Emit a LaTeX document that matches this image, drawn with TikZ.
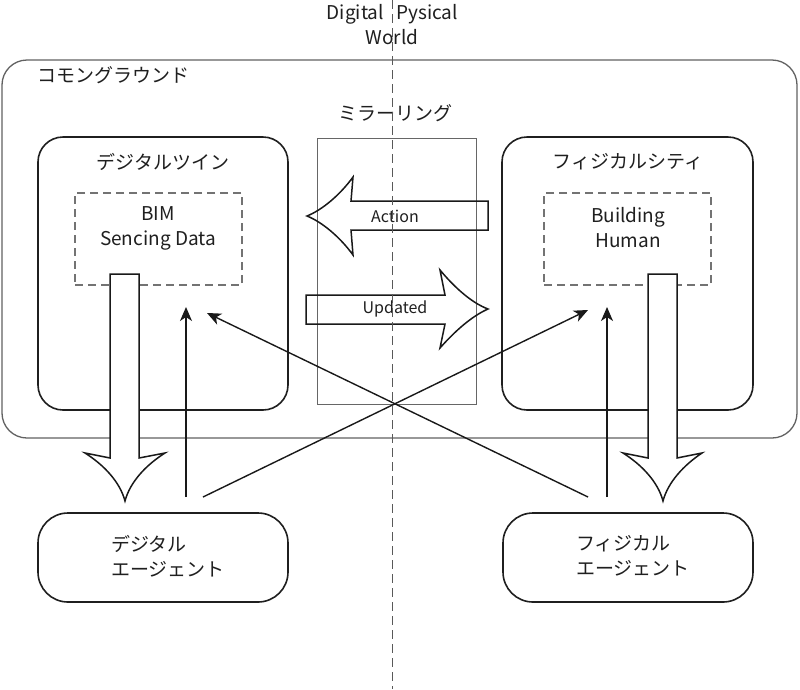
\documentclass[tikz,border=0pt]{standalone}
\usepackage{fontspec}
\setmainfont{Noto Sans CJK JP}
\usetikzlibrary{arrows.meta}
\begin{document}
\begin{tikzpicture}[x=1pt,y=-1pt,
  txt/.style={font=\fontsize{19}{25}\selectfont, text=black!88, inner sep=0pt},
  smalltxt/.style={font=\fontsize{16}{20}\selectfont, text=black!88, inner sep=0pt},
  rbox/.style={draw=black!88, line width=1.6pt, rounded corners=25pt, inner sep=0pt},
  abox/.style={draw=black!88, line width=1.6pt, rounded corners=30pt, inner sep=0pt, minimum width=250pt, minimum height=89pt},
  dbox/.style={draw=black!55, line width=1.1pt, dash pattern=on 8pt off 5pt, inner sep=0pt, minimum width=167pt, minimum height=92pt},
  outerbox/.style={draw=black!62, line width=1.3pt, rounded corners=25pt, inner sep=0pt},
  mirbox/.style={draw=black!60, line width=0.9pt, inner sep=0pt},
  blockarrow/.style={draw=black!90, line width=1.5pt, fill=white, line join=miter},
  arr/.style={draw=black!90, line width=1.4pt, -{Stealth[length=14pt,width=12pt,inset=4pt]}},
  centerline/.style={draw=black!65, line width=1.1pt, dash pattern=on 9pt off 5pt}
]
\useasboundingbox (0,0) rectangle (800,689);
\fill[white] (0,0) rectangle (800,689);

% outer common-ground box
\node[outerbox, minimum width=795pt, minimum height=378pt] (common) at (399.5,249) {};
\node[txt, anchor=west] (commonlbl) at (37,75) {コモングラウンド};

% mirroring box
\node[mirbox, minimum width=159pt, minimum height=266pt] (mirror) at (396.5,271) {};
\node[txt] (mirrorlbl) at (395,113) {ミラーリング};

% digital twin
\node[rbox, minimum width=250pt, minimum height=273pt] (twin) at (163,273.5) {};
\node[txt] (twinlbl) at (163,162) {デジタルツイン};
\node[dbox] (bim) at (158.5,239) {};
\node[txt, align=center] (bimtxt) at (158,228) {BIM\\Sencing Data};

% physical city
\node[rbox, minimum width=251pt, minimum height=273pt] (city) at (627.5,273.5) {};
\node[txt] (citylbl) at (628,162) {フィジカルシティ};
\node[dbox] (bldg) at (627.5,239) {};
\node[txt, align=center] (bldgtxt) at (628,228) {Building\\Human};

% agents
\node[abox] (dagent) at (163,557.5) {};
\node[txt, anchor=west, align=left] (dagenttxt) at (111,556) {デジタル\\エージェント};
\node[abox] (pagent) at (628,557.5) {};
\node[txt, anchor=west, align=left] (pagenttxt) at (576,556) {フィジカル\\エージェント};

% big down block arrows
\draw[blockarrow] (110,274) -- (139,274) -- (139,458) -- (165,453)
  .. controls (146,465) and (130,482) .. (125,501)
  .. controls (120,482) and (104,465) .. (85,453) -- (110,458) -- cycle;
\draw[blockarrow] (648,274) -- (677,274) -- (677,458) -- (702,453)
  .. controls (684,465) and (668,482) .. (663,501)
  .. controls (658,482) and (642,465) .. (623,453) -- (648,458) -- cycle;

% Action / Updated block arrows
\draw[blockarrow, fill=none] (488,201) -- (351,201) -- (353,177)
  .. controls (340,195) and (322,210) .. (307,216)
  .. controls (322,222) and (340,237) .. (353,255) -- (351,230) -- (488,230) -- cycle;
\node[smalltxt] (action) at (395,216) {Action};
\draw[blockarrow, fill=none] (306,295) -- (445,295) -- (440,270)
  .. controls (455,288) and (472,303) .. (488,309)
  .. controls (472,316) and (455,331) .. (440,348) -- (445,324) -- (306,324) -- cycle;
\node[smalltxt] (updated) at (395,309) {Updated};

% connectors
\coordinate (dUpS) at (186,497);
\coordinate (dUpE) at (186,307);
\coordinate (pUpS) at (607,497);
\coordinate (pUpE) at (607,307);
\coordinate (dDiagS) at (203,497);
\coordinate (pDiagE) at (588,310);
\coordinate (pDiagS) at (588,497);
\coordinate (dDiagE) at (207,313);
\draw[arr] (dUpS) -- (dUpE);
\draw[arr] (pUpS) -- (pUpE);
\draw[arr] (dDiagS) -- (pDiagE);
\draw[arr] (pDiagS) -- (dDiagE);

% center divider and title
\coordinate (divTop) at (392.5,0);
\coordinate (divBot) at (392.5,689);
\draw[centerline] (divTop) -- (divBot);
\node[txt, anchor=east] (digital) at (384,14) {Digital};
\node[txt, anchor=west] (pysical) at (396,14) {Pysical};
\node[txt] (world) at (392,37) {World};
\end{tikzpicture}
\end{document}
